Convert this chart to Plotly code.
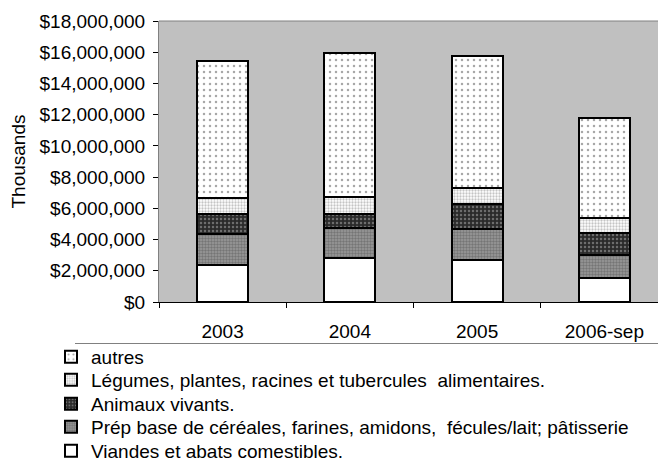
import plotly.graph_objects as go

years = ["2003", "2004", "2005", "2006-sep"]
viandes = [2370000, 2840000, 2690000, 1560000]
prep = [1990000, 1920000, 1970000, 1430000]
animaux = [1260000, 900000, 1600000, 1450000]
legumes = [1070000, 1090000, 1030000, 930000]
autres = [8760000, 9190000, 8480000, 6410000]

names = [
    "Viandes et abats comestibles.",
    "Prép base de céréales, farines, amidons,  fécules/lait; pâtisserie",
    "Animaux vivants.",
    "Légumes, plantes, racines et tubercules  alimentaires.",
    "autres",
]
series = [viandes, prep, animaux, legumes, autres]
patterns = [
    dict(shape="", bgcolor="white"),
    dict(shape=".", bgcolor="#9a9a9a", fgcolor="#505050", size=3, solidity=0.5),
    dict(shape=".", bgcolor="#2a2a2a", fgcolor="#b0b0b0", size=4, solidity=0.3),
    dict(shape=".", bgcolor="#ffffff", fgcolor="#8a8a8a", size=3, solidity=0.45),
    dict(shape=".", bgcolor="#ffffff", fgcolor="#505050", size=6, solidity=0.14),
]

FONT = "Liberation Sans, Arial, sans-serif"
FS = 19
OFF = 8  # page body margin
W, H = 666, 461
L, R, T = 159 - OFF, 6, 21 - OFF
B = H - (302 - OFF)
PW, PH = W - L - R, H - T - B

# legend item vertical centres (screen pixels), bottom item first
legend_py = [451, 427, 404, 380, 357]
legend_ids = ["legend", "legend2", "legend3", "legend4", "legend5"]

fig = go.Figure()
for name, vals, pat, lid in zip(names, series, patterns, legend_ids):
    fig.add_trace(go.Bar(
        x=years, y=vals, name=name, legend=lid,
        marker=dict(color="white", pattern=pat, line=dict(color="black", width=2)),
        width=0.4,
    ))

legend_x = (90 - OFF - 39 - L) / PW
legends = {}
for lid, py in zip(legend_ids, legend_py):
    legends[lid] = dict(
        x=legend_x, xanchor="left",
        y=(H - B - (py - OFF)) / PH, yanchor="middle",
        font=dict(family=FONT, size=FS, color="black"),
        itemwidth=30,
        bgcolor="rgba(0,0,0,0)",
    )

line_y = (H - B - (343.5 - OFF)) / PH

fig.update_layout(
    width=W, height=H,
    barmode="stack",
    paper_bgcolor="white",
    plot_bgcolor="#c0c0c0",
    margin=dict(l=L, r=R, t=T, b=B, autoexpand=False),
    font=dict(family=FONT, size=FS, color="black"),
    showlegend=True,
    xaxis=dict(
        type="category",
        range=[-0.5, 3.5],
        showline=True, linecolor="black", linewidth=1,
        ticks="outside", tickson="boundaries", ticklen=5, tickcolor="black",
        tickfont=dict(family=FONT, size=FS),
        ticklabelstandoff=12,
        showgrid=False,
    ),
    yaxis=dict(
        range=[0, 18000000],
        dtick=2000000,
        tickprefix="$", tickformat=",.0f",
        showline=True, linecolor="#808080", linewidth=1,
        ticks="outside", ticklen=5, tickcolor="black",
        tickfont=dict(family=FONT, size=FS),
        ticklabelstandoff=4,
        showgrid=False,
        title=dict(text="Thousands", font=dict(family=FONT, size=FS), standoff=8),
        zeroline=False,
    ),
    shapes=[
        dict(type="line", xref="paper", yref="paper", x0=0, x1=1.05, y0=1, y1=1,
             line=dict(color="#808080", width=1)),
        dict(type="line", xref="paper", yref="paper", x0=(75 - OFF - L) / PW, x1=1.05,
             y0=line_y, y1=line_y,
             line=dict(color="#808080", width=1)),
    ],
    **legends,
)

fig.write_html("out.html")
